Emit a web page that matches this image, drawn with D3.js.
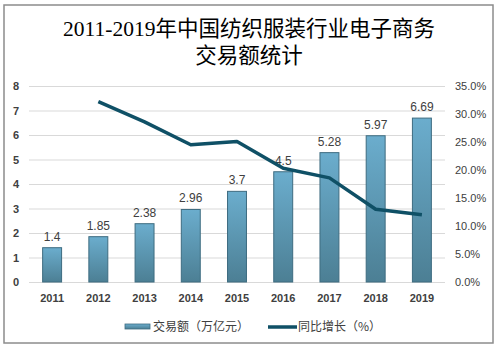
<!DOCTYPE html>
<html><head><meta charset="utf-8">
<script src="https://cdn.jsdelivr.net/npm/d3@7"></script>
<style>body{margin:0;background:#fff}svg{display:block}</style>
</head><body>
<svg id="c" width="499" height="349"></svg>
<script>
const years = ["2011","2012","2013","2014","2015","2016","2017","2018","2019"];
const volume = [1.4,1.85,2.38,2.96,3.7,4.5,5.28,5.97,6.69];
const growth = [null,32.2,28.6,24.5,25.1,20.3,18.6,13.0,12.0];
const leftTicks = [0,1,2,3,4,5,6,7,8];
const rightTicks = [0,5,10,15,20,25,30,35];
const titleLines = ["2011-2019年中国纺织服装行业电子商务","交易额统计"];
const legendLabels = ["交易额（万亿元）","同比增长（%）"];

const svg = d3.select("#c");
const m = {l:29, r:445, t:86, b:282};
const x = d3.scaleBand().domain(years).range([m.l,m.r]).paddingInner(0.59).paddingOuter(0.295);
const yL = d3.scaleLinear().domain([0,8]).range([m.b,m.t]);
const yR = d3.scaleLinear().domain([0,35]).range([m.b,m.t]);

const defs = svg.append("defs");
const g = defs.append("linearGradient").attr("id","bg").attr("x1",0).attr("y1",0).attr("x2",0).attr("y2",1);
g.append("stop").attr("offset","0%").attr("stop-color","#6badcd");
g.append("stop").attr("offset","100%").attr("stop-color","#4c7f94");

svg.append("rect").attr("x",4).attr("y",5).attr("width",489).attr("height",338)
  .attr("fill","#fff").attr("stroke","#8c8c8c").attr("stroke-width",1.5);

// title
const title = svg.append("text").attr("text-anchor","middle")
  .attr("font-family","'Liberation Serif','Noto Sans CJK SC',serif").attr("font-size",21.5).attr("fill","#000");
title.append("tspan").attr("x",249).attr("y",36).text(titleLines[0]);
title.append("tspan").attr("x",249).attr("y",63).text(titleLines[1]);

// gridlines
svg.append("g").selectAll("line").data(leftTicks).join("line")
  .attr("x1",m.l).attr("x2",m.r).attr("y1",d=>yL(d)+0.5).attr("y2",d=>yL(d)+0.5)
  .attr("stroke","#d9d9d9").attr("stroke-width",1);

// left axis
const axL = svg.append("g").attr("transform",`translate(${m.l-10},0)`)
  .call(d3.axisLeft(yL).tickValues(leftTicks).tickSize(0).tickPadding(0).tickFormat(d3.format("d")));
axL.select(".domain").remove();
axL.selectAll("text").attr("font-family","'Liberation Sans',Arial,sans-serif").attr("font-size",11)
  .attr("font-weight","bold").attr("fill","#404040");

// right axis
const axR = svg.append("g").attr("transform",`translate(${m.r+10},0)`)
  .call(d3.axisRight(yR).tickValues(rightTicks).tickSize(0).tickPadding(0).tickFormat(d=>d.toFixed(1)+"%"));
axR.select(".domain").remove();
axR.selectAll("text").attr("font-family","'Liberation Sans',Arial,sans-serif").attr("font-size",11)
  .attr("fill","#404040");

// x axis
const axX = svg.append("g").attr("transform",`translate(0,${m.b+10})`)
  .call(d3.axisBottom(x).tickSize(0).tickPadding(2));
axX.select(".domain").remove();
axX.selectAll("text").attr("font-family","'Liberation Sans',Arial,sans-serif").attr("font-size",11)
  .attr("font-weight","bold").attr("fill","#404040");

// bars
svg.append("g").selectAll("rect").data(volume).join("rect")
  .attr("x",(d,i)=>x(years[i])).attr("width",x.bandwidth())
  .attr("y",d=>yL(d)).attr("height",d=>yL(0)-yL(d))
  .attr("fill","url(#bg)").attr("stroke","#3e6c80").attr("stroke-width",1);

svg.append("g").selectAll("text").data(volume).join("text")
  .attr("x",(d,i)=>x(years[i])+x.bandwidth()/2).attr("y",d=>yL(d)-7)
  .attr("text-anchor","middle").attr("font-family","'Liberation Sans',Arial,sans-serif")
  .attr("font-size",12).attr("fill","#404040").text(d=>d);

// line
const line = d3.line().defined(d=>d!=null)
  .x((d,i)=>x(years[i])+x.bandwidth()/2).y(d=>yR(d));
svg.append("path").datum(growth).attr("d",line).attr("fill","none")
  .attr("stroke","#0f5066").attr("stroke-width",3.5).attr("stroke-linejoin","round");

// legend
const lg = svg.append("g").attr("font-family","'Noto Sans CJK SC',sans-serif").attr("font-size",12).attr("fill","#404040");
lg.append("rect").attr("x",125).attr("y",324).attr("width",25).attr("height",5).attr("fill","url(#bg)").attr("stroke","#3e6c80").attr("stroke-width",0.8);
lg.append("text").attr("x",153).attr("y",331).text(legendLabels[0]);
lg.append("line").attr("x1",268).attr("x2",297).attr("y1",327).attr("y2",327).attr("stroke","#0f5066").attr("stroke-width",3.5);
lg.append("text").attr("x",298).attr("y",331).text(legendLabels[1]);
</script>
</body></html>
